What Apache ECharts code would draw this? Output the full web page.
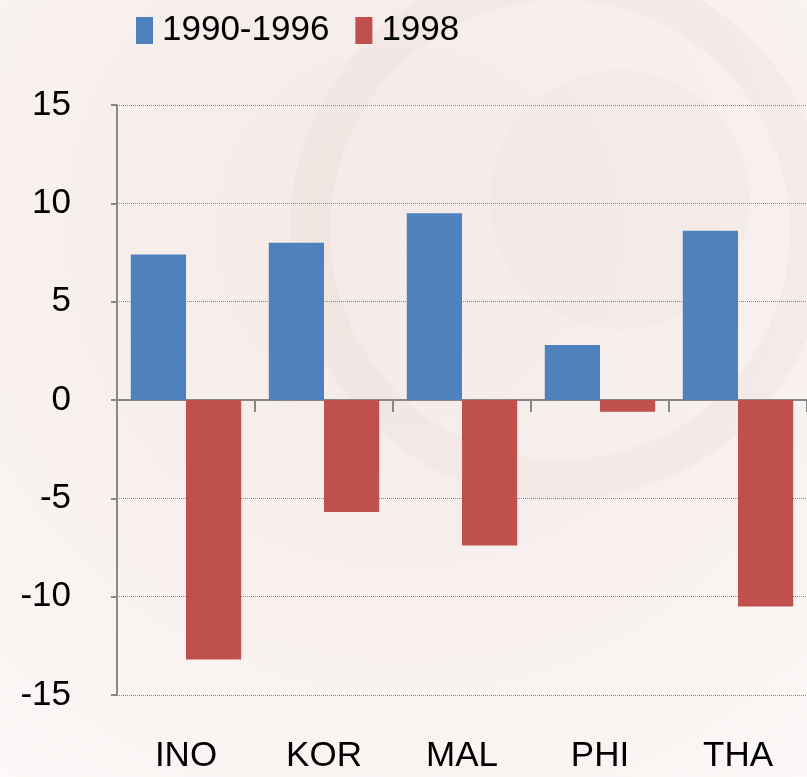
<!DOCTYPE html>
<html>
<head>
  <meta charset="utf-8">
  <script src="https://cdn.jsdelivr.net/npm/echarts@6/dist/echarts.min.js"></script>
  <style>
    * { margin: 0; padding: 0; }
    html, body, #chart { width: 807px; height: 777px; overflow: hidden; }
  </style>
</head>
<body>
  <div id="chart"></div>
  <script>
    // categories and values
    var countries = ['INO', 'KOR', 'MAL', 'PHI', 'THA'];
    var growth9096 = [7.4, 8.0, 9.5, 2.8, 8.6];
    var growth98 = [-13.2, -5.7, -7.4, -0.6, -10.5];

    var font = '"Liberation Sans Narrow", "Liberation Sans", sans-serif';

    var chart = echarts.init(document.getElementById('chart'));
    chart.setOption({
      animation: false,
      backgroundColor: {
        type: 'radial', x: 0.5, y: 0.3, r: 0.9,
        colorStops: [
          { offset: 0, color: '#f4eae7' },
          { offset: 0.6, color: '#f8f1ef' },
          { offset: 1, color: '#fcf9f8' }
        ]
      },
      // faint watermark swirl behind the plot
      graphic: [
        { type: 'circle', shape: { cx: 560, cy: 230, r: 250 }, style: { fill: 'none', stroke: 'rgba(200,160,150,0.08)', lineWidth: 40 }, silent: true, z: -1 },
        { type: 'circle', shape: { cx: 620, cy: 200, r: 130 }, style: { fill: 'rgba(210,180,170,0.06)' }, silent: true, z: -1 }
      ],
      legend: {
        top: 8,
        left: 131,
        itemWidth: 17,
        itemHeight: 27,
        itemGap: 26,
        icon: 'rect',
        textStyle: { fontFamily: font, fontSize: 35, color: '#000', padding: [0, 0, 0, 4] }
      },
      grid: { left: 117, right: -3, top: 105, bottom: 82, containLabel: false },
      xAxis: [
        {
          type: 'category',
          data: countries,
          axisLine: { onZero: true, lineStyle: { color: '#888', width: 2 } },
          axisTick: { show: true, length: 12, lineStyle: { color: '#888', width: 2 } },
          axisLabel: { show: false }
        },
        {
          type: 'category',
          data: countries,
          position: 'bottom',
          axisLine: { show: false, onZero: false },
          axisTick: { show: false },
          axisLabel: { fontFamily: font, fontSize: 35, color: '#000', margin: 44 }
        }
      ],
      yAxis: {
        type: 'value',
        min: -15,
        max: 15,
        interval: 5,
        axisLine: { show: true, lineStyle: { color: '#888', width: 2 } },
        axisTick: { show: true, length: 6, lineStyle: { color: '#888', width: 2 } },
        axisLabel: { fontFamily: font, fontSize: 35, color: '#000', margin: 46 },
        splitLine: { show: true, lineStyle: { color: '#888', type: [1, 1], width: 1 } }
      },
      series: [
        {
          name: '1990-1996',
          type: 'bar',
          data: growth9096,
          barGap: 0,
          barCategoryGap: '20%',
          itemStyle: { color: '#4f81bd' }
        },
        {
          name: '1998',
          type: 'bar',
          data: growth98,
          barGap: 0,
          barCategoryGap: '20%',
          itemStyle: { color: '#c0504d' }
        }
      ]
    });
  </script>
</body>
</html>
